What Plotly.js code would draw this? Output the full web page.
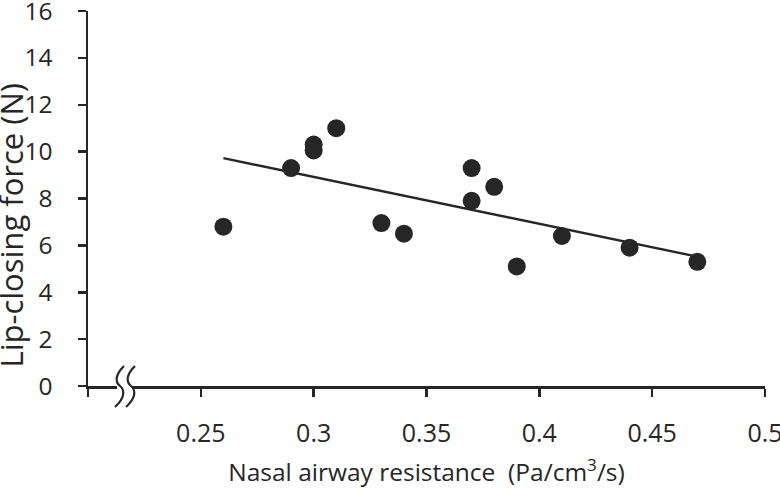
<!DOCTYPE html>
<html>
<head>
<meta charset="utf-8">
<script src="https://cdn.plot.ly/plotly-3.0.1.min.js"></script>
<style>html,body{margin:0;padding:0;background:#fff;}#chart{width:780px;height:493px;}</style>
</head>
<body>
<div id="chart"></div>
<script>
// Nasal airway resistance (Pa/cm3/s)
const resistance = [0.26, 0.29, 0.30, 0.30, 0.31, 0.33, 0.34, 0.37, 0.37, 0.38, 0.39, 0.41, 0.44, 0.47];
// Lip-closing force (N)
const force = [6.8, 9.3, 10.3, 10.05, 11.0, 6.95, 6.5, 9.3, 7.9, 8.5, 5.1, 6.4, 5.9, 5.3];
// Trend line end points
const trendX = [0.26, 0.47];
const trendY = [9.72, 5.52];
const xTickVals = [0.2, 0.25, 0.3, 0.35, 0.4, 0.45, 0.5];
const xTickText = [' ', '0.25', '0.3', '0.35', '0.4', '0.45', '0.5'];
const yTickVals = [0, 2, 4, 6, 8, 10, 12, 14, 16];
const yTitle = 'Lip-closing force (N)';
const xTitle = 'Nasal airway resistance  (Pa/cm<sup>3</sup>/s)';

const ink = '#262626';
const fam = '"Open Sans", "Noto Sans", sans-serif';

const traces = [
  {x: trendX, y: trendY, mode: 'lines', line: {color: ink, width: 2.4}, hoverinfo: 'skip', showlegend: false},
  {x: resistance, y: force, mode: 'markers', marker: {color: ink, size: 18}, showlegend: false}
];

const breakShape = (dx) => ({
  type: 'path', xref: 'paper', yref: 'paper', xsizemode: 'pixel', ysizemode: 'pixel',
  xanchor: 0, yanchor: 0,
  path: `M ${dx+36},20 C ${dx+27},11 ${dx+27},4 ${dx+32},0 C ${dx+37},-4 ${dx+37},-12 ${dx+27},-21`,
  line: {color: ink, width: 2.2}
});

const layout = {
  width: 780, height: 493,
  margin: {l: 88, r: 15, t: 11, b: 107},
  paper_bgcolor: '#fff', plot_bgcolor: '#fff',
  font: {family: fam, color: ink},
  xaxis: {
    range: [0.2, 0.5], showgrid: false, zeroline: false,
    showline: true, linecolor: ink, linewidth: 2.5,
    ticks: 'outside', ticklen: 8, tickwidth: 2.5, tickcolor: ink,
    tickvals: xTickVals, ticktext: xTickText,
    ticklabelstandoff: 15, ticklabeloverflow: 'allow',
    tickfont: {size: 25, family: fam, color: ink},
    title: {text: xTitle, font: {size: 24.5, family: fam, color: ink}, standoff: 17}
  },
  yaxis: {
    range: [0, 16], showgrid: false, zeroline: false,
    showline: true, linecolor: ink, linewidth: 2.5,
    ticks: 'outside', ticklen: 8, tickwidth: 2.5, tickcolor: ink,
    tickvals: yTickVals, ticklabeloverflow: 'allow',
    ticklabelstandoff: 20,
    tickfont: {size: 24.5, family: fam, color: ink}
  },
  annotations: [
    {text: yTitle, xref: 'paper', yref: 'paper', x: 0, y: 0.5, xshift: -78, yshift: -27,
     xanchor: 'center', yanchor: 'middle', textangle: -90, showarrow: false,
     font: {size: 31, family: fam, color: ink}}
  ],
  shapes: [
    {type: 'rect', xref: 'paper', yref: 'paper', xsizemode: 'pixel', ysizemode: 'pixel',
     xanchor: 0, yanchor: 0, x0: 29, x1: 44, y0: -3, y1: 3,
     fillcolor: '#fff', line: {width: 0}},
    breakShape(0),
    breakShape(11)
  ]
};

Plotly.newPlot('chart', traces, layout, {displayModeBar: false, staticPlot: true});
</script>
</body>
</html>
